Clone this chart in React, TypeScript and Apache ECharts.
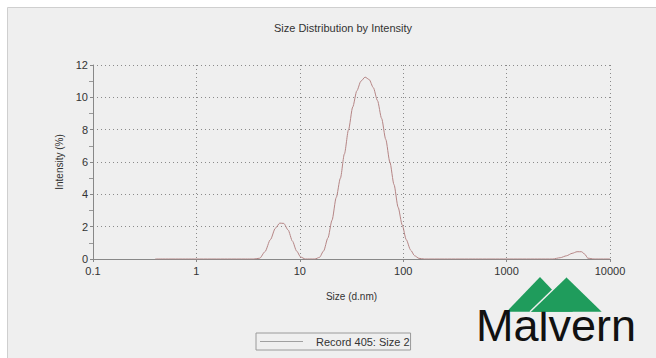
import React, { useEffect, useRef } from "react";
import * as echarts from "echarts";

const titleText = "Size Distribution by Intensity";
const xAxisName = "Size (d.nm)";
const yAxisName = "Intensity (%)";
const seriesName = "Record 405: Size 2";
const xTickLabels = ["0.1", "1", "10", "100", "1000", "10000"];

const sizes = [
  0.4, 1, 2, 3, 3.6, 4.1, 4.6, 5.2, 5.8, 6.4, 7.0, 7.7, 8.5, 9.3, 10.2, 11.3, 12.5, 14, 15.5, 17,
  18.7, 20.5, 22.5, 24.7, 27, 29.6, 32.5, 35.6, 39, 42.8, 46.9, 51.4, 56.4, 61.8, 67.8, 74.3,
  81.5, 89.3, 97.9, 107, 118, 129, 142, 160, 250, 500, 1000, 2000, 2800, 3300, 3800, 4300,
  4800, 5300, 5700, 6100, 7000, 10000,
];
const intensities = [
  0, 0, 0, 0, 0, 0.05, 0.45, 1.2, 1.9, 2.22, 2.2, 1.8, 1.1, 0.5, 0.12, 0, 0, 0, 0.1, 0.5,
  1.3, 2.4, 3.8, 5.0, 6.5, 8.0, 9.4, 10.4, 11.0, 11.25, 11.1, 10.6, 9.8, 8.7, 7.4, 6.0,
  4.6, 3.2, 2.1, 1.2, 0.55, 0.2, 0.04, 0, 0, 0, 0, 0, 0, 0.08, 0.2, 0.35,
  0.45, 0.45, 0.3, 0.05, 0, 0,
];

const FONT = "Liberation Sans, Arial, sans-serif";

export default function App() {
  const ref = useRef<HTMLDivElement>(null);
  useEffect(() => {
    if (!ref.current) return;
    const chart = echarts.init(ref.current, undefined, { renderer: "svg" });
    const data = sizes.map((s, i) => [s, intensities[i]]);
    chart.setOption({
      animation: false,
      backgroundColor: "#ffffff",
      textStyle: { fontFamily: FONT },
      title: {
        text: titleText,
        left: 338,
        top: 17,
        textAlign: "center",
        textStyle: { fontSize: 11, fontWeight: "normal", color: "#333", fontFamily: FONT },
      },
      grid: { left: 93, right: 46, top: 65, bottom: 99 },
      xAxis: {
        type: "log",
        logBase: 10,
        min: 0.1,
        max: 10000,
        name: xAxisName,
        nameLocation: "middle",
        nameGap: 32,
        nameTextStyle: { fontSize: 10, color: "#333", fontFamily: FONT },
        axisLine: { lineStyle: { color: "#888", width: 1 } },
        axisTick: { show: true, length: 3, lineStyle: { color: "#888" } },
        axisLabel: {
          fontSize: 11,
          color: "#333",
          margin: 6,
          fontFamily: FONT,
          formatter: (v: number) => xTickLabels[Math.round(Math.log10(v)) + 1] ?? String(v),
        },
        splitLine: { show: true, lineStyle: { color: "#8a8a8a", type: [1, 3], width: 1 } },
      },
      yAxis: {
        type: "value",
        min: 0,
        max: 12,
        interval: 2,
        name: yAxisName,
        nameLocation: "middle",
        nameGap: 29,
        nameTextStyle: { fontSize: 10, color: "#333", fontFamily: FONT },
        axisLine: { show: true, lineStyle: { color: "#888", width: 1 } },
        axisTick: { show: true, length: 3, lineStyle: { color: "#888" } },
        minorTick: { show: true, splitNumber: 2, length: 4, lineStyle: { color: "#999" } },
        axisLabel: { fontSize: 11, color: "#333", margin: 5, fontFamily: FONT },
        splitLine: { show: true, lineStyle: { color: "#8a8a8a", type: [1, 3], width: 1 } },
      },
      legend: {
        left: 256,
        top: 333,
        orient: "horizontal",
        borderColor: "#9a9a9a",
        borderWidth: 1,
        borderRadius: 0,
        padding: [3, 1, 3, 4],
        itemWidth: 43,
        itemHeight: 1,
        data: [{ name: seriesName, icon: "rect", itemStyle: { color: "#a0a0a0" } }],
        textStyle: { fontSize: 11, color: "#333", fontFamily: FONT, padding: [0, 0, 0, 8] },
      },
      series: [
        {
          name: seriesName,
          type: "line",
          data,
          showSymbol: false,
          symbol: "none",
          smooth: 0.25,
          smoothMonotone: "x",
          lineStyle: { color: "#b58585", width: 1 },
          itemStyle: { color: "#b58585" },
        },
      ],
      graphic: [
        {
          type: "rect",
          z: -10,
          silent: true,
          shape: { x: 7.5, y: 7.5, width: 660, height: 360 },
          style: { fill: "#efefef", stroke: "#cfcfcf", lineWidth: 1 },
        },
        {
          type: "polygon",
          z: 10,
          shape: { points: [[506.7, 311.7], [540, 277], [573, 311.7]] },
          style: { fill: "#1f9c5c" },
        },
        {
          type: "polygon",
          z: 11,
          shape: { points: [[530, 311.7], [566, 277], [601.7, 311.7]] },
          style: { fill: "#1f9c5c" },
        },
        {
          type: "line",
          z: 12,
          shape: { x1: 530, y1: 311.7, x2: 566, y2: 277 },
          style: { stroke: "#efefef", lineWidth: 1.5 },
        },
        {
          type: "text",
          z: 10,
          x: 556,
          y: 348,
          style: {
            text: "Malvern",
            fontSize: 45,
            fontFamily: FONT,
            fill: "#111111",
            textAlign: "center",
            textVerticalAlign: "bottom",
          },
        },
      ],
    });
    return () => chart.dispose();
  }, []);
  return (
    <div
      ref={ref}
      style={{ position: "fixed", left: 0, top: 0, width: 656, height: 358 }}
    />
  );
}
